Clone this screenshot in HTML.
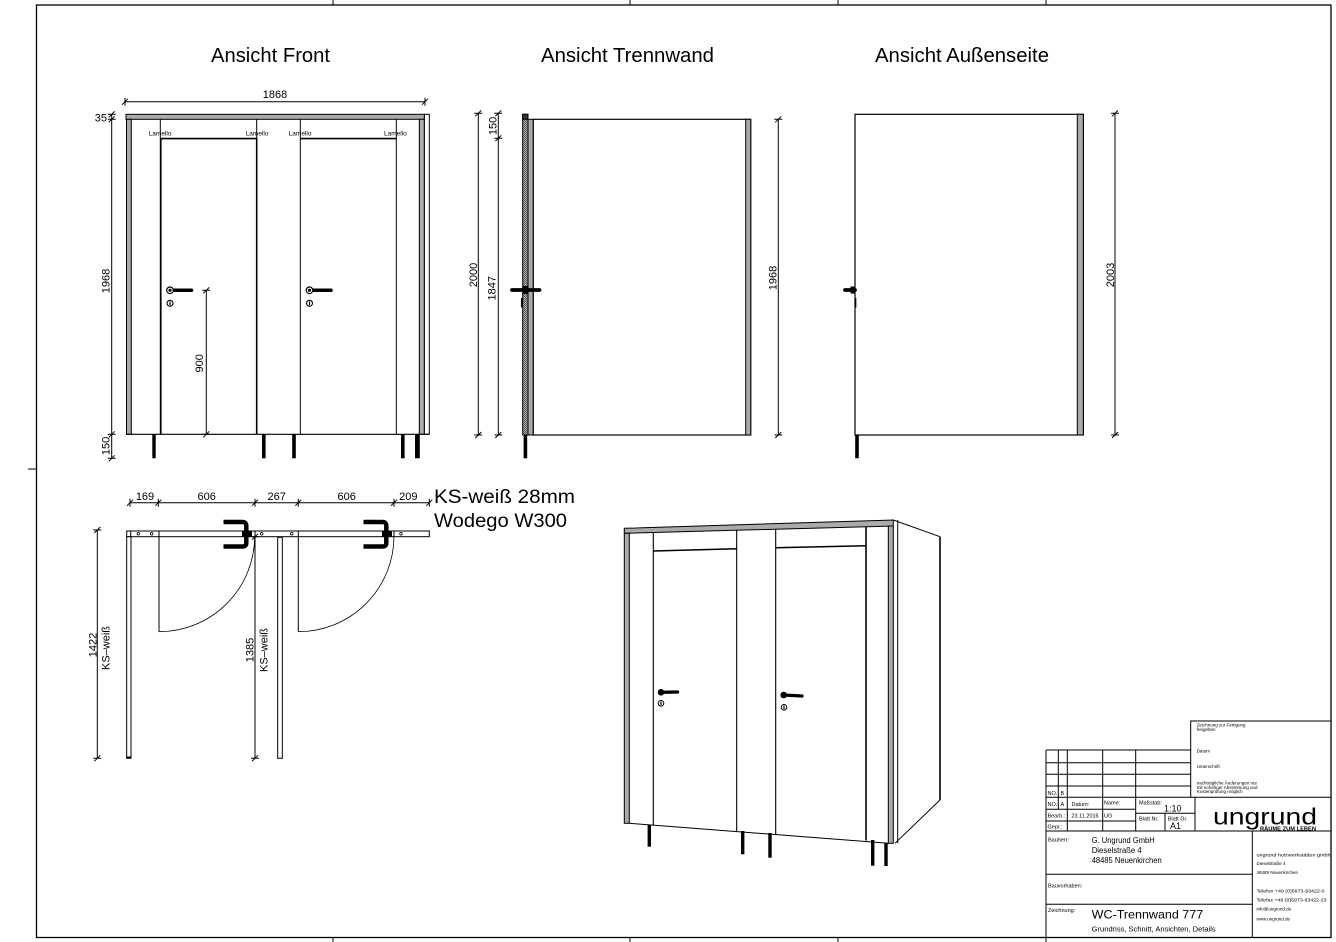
<!DOCTYPE html>
<html><head><meta charset="utf-8"><style>
html,body{margin:0;padding:0;background:#fff;}
svg{display:block;}
text{font-family:"Liberation Sans",sans-serif;fill:#000;}
</style></head><body>
<svg width="1336" height="942" viewBox="0 0 1336 942" xmlns="http://www.w3.org/2000/svg">
<defs>
<pattern id="hatch" width="2" height="2" patternUnits="userSpaceOnUse"><rect width="2" height="2" fill="#b0b0b0"/><rect width="1" height="1" fill="#555"/><rect x="1" y="1" width="1" height="1" fill="#555"/></pattern>
<g id="vt"><path d="M-4,0 H4 M-3,3 L3,-3" stroke="#000" stroke-width="1" fill="none"/></g>
<g id="ht"><path d="M0,-4 V4 M-3,3 L3,-3" stroke="#000" stroke-width="1" fill="none"/></g>
</defs>
<rect width="1336" height="942" fill="#fff"/>

<!-- border -->
<rect x="36.5" y="5" width="1294.5" height="932.5" fill="none" stroke="#000" stroke-width="1.3"/>
<g stroke="#000" stroke-width="1">
<line x1="333" y1="0" x2="333" y2="5"/><line x1="630" y1="0" x2="630" y2="5"/><line x1="838" y1="0" x2="838" y2="5"/><line x1="1046" y1="0" x2="1046" y2="5"/>
<line x1="333" y1="937.5" x2="333" y2="942"/><line x1="630" y1="937.5" x2="630" y2="942"/><line x1="838" y1="937.5" x2="838" y2="942"/><line x1="1046" y1="937.5" x2="1046" y2="942"/>
<line x1="28" y1="469" x2="36.5" y2="469"/>
</g>

<!-- titles -->
<text x="270.5" y="62" font-size="20" text-anchor="middle" textLength="119" lengthAdjust="spacingAndGlyphs">Ansicht Front</text>
<text x="627.5" y="62" font-size="20" text-anchor="middle" textLength="173" lengthAdjust="spacingAndGlyphs">Ansicht Trennwand</text>
<text x="962" y="62" font-size="20" text-anchor="middle" textLength="174" lengthAdjust="spacingAndGlyphs">Ansicht Außenseite</text>

<!-- ================= FRONT VIEW ================= -->
<line x1="125" y1="101.7" x2="425" y2="101.7" stroke="#000" stroke-width="1"/>
<use href="#ht" x="125" y="101.7"/><use href="#ht" x="425" y="101.7"/>
<text x="275" y="98" font-size="11" text-anchor="middle">1868</text>

<line x1="111.7" y1="114.3" x2="111.7" y2="458.3" stroke="#000" stroke-width="1"/>
<use href="#vt" x="111.7" y="114.3"/><use href="#vt" x="111.7" y="119.3"/><use href="#vt" x="111.7" y="434.3"/><use href="#vt" x="111.7" y="458.3"/>
<text x="107" y="121.5" font-size="11" text-anchor="end">35</text>
<text transform="translate(109.5,281) rotate(-90)" font-size="11" text-anchor="middle">1968</text>
<text transform="translate(109.5,446) rotate(-90)" font-size="11" text-anchor="middle">150</text>

<rect x="424.3" y="114.3" width="5" height="320" fill="#fff" stroke="#000" stroke-width="1"/>
<rect x="126" y="114.3" width="298.3" height="5" fill="#aaa" stroke="#000" stroke-width="1"/>
<rect x="126.5" y="119.3" width="4.8" height="315" fill="#aaa" stroke="#000" stroke-width="1"/>
<rect x="419.3" y="119.3" width="5" height="315" fill="#aaa" stroke="#000" stroke-width="1"/>
<line x1="126" y1="434.3" x2="429.3" y2="434.3" stroke="#000" stroke-width="1.2"/>
<g stroke="#000" stroke-width="1">
<line x1="160.3" y1="119.3" x2="160.3" y2="434.3"/>
<line x1="256.7" y1="119.3" x2="256.7" y2="434.3"/>
<line x1="300.3" y1="119.3" x2="300.3" y2="434.3"/>
<line x1="396.3" y1="119.3" x2="396.3" y2="434.3"/>
</g>
<path d="M160.8,434.3 V138.6 H256.7 V434.3" fill="none" stroke="#000" stroke-width="1.6"/>
<line x1="300.3" y1="138.6" x2="396.3" y2="138.6" stroke="#000" stroke-width="1.6"/>
<text x="148.7" y="135.5" font-size="6.5">Lamello</text>
<text x="245.7" y="135.5" font-size="6.5">Lamello</text>
<text x="288.7" y="135.5" font-size="6.5">Lamello</text>
<text x="384" y="135.5" font-size="6.5">Lamello</text>
<!-- handles -->
<g>
<line x1="170" y1="290.3" x2="191.5" y2="290.3" stroke="#000" stroke-width="3.5" stroke-linecap="round"/>
<circle cx="170" cy="290.3" r="3.3" fill="#fff" stroke="#000" stroke-width="1.2"/><circle cx="170" cy="290.3" r="1.6" fill="#000"/>
<circle cx="170" cy="303.3" r="3" fill="#fff" stroke="#000" stroke-width="1.1"/><line x1="170" y1="301.5" x2="170" y2="305.2" stroke="#000" stroke-width="1.2"/>
<line x1="309.5" y1="290.3" x2="331" y2="290.3" stroke="#000" stroke-width="3.5" stroke-linecap="round"/>
<circle cx="309.5" cy="290.3" r="3.3" fill="#fff" stroke="#000" stroke-width="1.2"/><circle cx="309.5" cy="290.3" r="1.6" fill="#000"/>
<circle cx="309.5" cy="303.3" r="3" fill="#fff" stroke="#000" stroke-width="1.1"/><line x1="309.5" y1="301.5" x2="309.5" y2="305.2" stroke="#000" stroke-width="1.2"/>
</g>
<line x1="206.3" y1="290.3" x2="206.3" y2="434.3" stroke="#000" stroke-width="1"/>
<use href="#vt" x="206.3" y="290.3"/><use href="#vt" x="206.3" y="434.3"/>
<text transform="translate(203,363.3) rotate(-90)" font-size="11" text-anchor="middle">900</text>
<g fill="#000">
<rect x="152.3" y="434.3" width="3.4" height="24"/>
<rect x="262" y="434.3" width="3.6" height="24"/>
<rect x="292.2" y="434.3" width="3.6" height="24"/>
<rect x="401" y="434.3" width="3.6" height="24"/>
<rect x="415" y="434.3" width="4.8" height="24"/>
</g>

<!-- ================= TRENNWAND VIEW ================= -->
<line x1="478.3" y1="113.3" x2="478.3" y2="435" stroke="#000" stroke-width="1"/>
<use href="#vt" x="478.3" y="113.3"/><use href="#vt" x="478.3" y="435"/>
<text transform="translate(477,275) rotate(-90)" font-size="11" text-anchor="middle">2000</text>
<line x1="498.3" y1="113.3" x2="498.3" y2="435" stroke="#000" stroke-width="1"/>
<use href="#vt" x="498.3" y="113.3"/><use href="#vt" x="498.3" y="138.3"/><use href="#vt" x="498.3" y="435"/>
<text transform="translate(495.5,288.3) rotate(-90)" font-size="11" text-anchor="middle">1847</text>
<text transform="translate(496.5,126) rotate(-90)" font-size="11" text-anchor="middle">150</text>

<rect x="522.7" y="114.3" width="5.3" height="320.7" fill="url(#hatch)" stroke="#000" stroke-width="1"/>
<rect x="522.7" y="114.3" width="5.3" height="5" fill="#333" stroke="#000" stroke-width="1"/>
<rect x="528" y="119.3" width="5.3" height="315.7" fill="#aaa" stroke="#000" stroke-width="1"/>
<rect x="533.3" y="119.3" width="217.4" height="315.7" fill="#fff" stroke="#000" stroke-width="1.2"/>
<rect x="745.7" y="119.3" width="5" height="315.7" fill="#aaa" stroke="#000" stroke-width="1"/>
<rect x="523.6" y="435" width="3.6" height="23.3" fill="#000"/>
<line x1="512" y1="290" x2="539.5" y2="290" stroke="#000" stroke-width="3.8" stroke-linecap="round"/>
<rect x="522.5" y="286" width="6" height="8" fill="#000"/>
<line x1="521.7" y1="298" x2="521.7" y2="307.5" stroke="#000" stroke-width="1.5"/>
<line x1="778.3" y1="119.3" x2="778.3" y2="435" stroke="#000" stroke-width="1"/>
<use href="#vt" x="778.3" y="119.3"/><use href="#vt" x="778.3" y="435"/>
<text transform="translate(776.5,278) rotate(-90)" font-size="11" text-anchor="middle">1968</text>

<!-- ================= AUSSENSEITE VIEW ================= -->
<rect x="855" y="114.3" width="228.3" height="320.7" fill="#fff" stroke="#000" stroke-width="1.2"/>
<rect x="1077.3" y="114.3" width="6" height="320.7" fill="#aaa" stroke="#000" stroke-width="1"/>
<rect x="855.2" y="435" width="3.6" height="23.3" fill="#000"/>
<line x1="845" y1="290" x2="855" y2="290" stroke="#000" stroke-width="3.8" stroke-linecap="round"/>
<rect x="850.5" y="286.5" width="4.5" height="7" fill="#000"/>
<line x1="855.6" y1="298" x2="855.6" y2="307.5" stroke="#000" stroke-width="1.5"/>
<line x1="1115" y1="113.3" x2="1115" y2="435" stroke="#000" stroke-width="1"/>
<use href="#vt" x="1115" y="113.3"/><use href="#vt" x="1115" y="435"/>
<text transform="translate(1114,275) rotate(-90)" font-size="11" text-anchor="middle">2003</text>

<!-- ================= PLAN VIEW ================= -->
<line x1="130" y1="502.7" x2="429.3" y2="502.7" stroke="#000" stroke-width="1"/>
<use href="#ht" x="130" y="502.7"/><use href="#ht" x="158.3" y="502.7"/><use href="#ht" x="255" y="502.7"/><use href="#ht" x="298.3" y="502.7"/><use href="#ht" x="394" y="502.7"/><use href="#ht" x="429.3" y="502.7"/>
<text x="145" y="500" font-size="11" text-anchor="middle">169</text>
<text x="206.7" y="500" font-size="11" text-anchor="middle">606</text>
<text x="276.7" y="500" font-size="11" text-anchor="middle">267</text>
<text x="346.7" y="500" font-size="11" text-anchor="middle">606</text>
<text x="408.3" y="500" font-size="11" text-anchor="middle">209</text>
<text x="434" y="503" font-size="19" textLength="141" lengthAdjust="spacingAndGlyphs">KS-weiß 28mm</text>
<text x="434" y="527" font-size="19" textLength="133" lengthAdjust="spacingAndGlyphs">Wodego W300</text>

<rect x="126.7" y="531" width="302.6" height="5.7" fill="#fff" stroke="#000" stroke-width="1"/>
<g stroke="#000" stroke-width="1">
<line x1="130.7" y1="531" x2="130.7" y2="536.7"/>
<line x1="159" y1="531" x2="159" y2="536.7"/>
<line x1="255" y1="531" x2="255" y2="536.7"/>
<line x1="298.3" y1="531" x2="298.3" y2="536.7"/>
<line x1="394" y1="531" x2="394" y2="536.7"/>
</g>
<g fill="#fff" stroke="#000" stroke-width="0.8">
<circle cx="138.3" cy="533.8" r="1.3"/><circle cx="151.7" cy="533.8" r="1.3"/><circle cx="261.7" cy="533.8" r="1.3"/><circle cx="291.7" cy="533.8" r="1.3"/><circle cx="401" cy="533.8" r="1.3"/>
</g>
<rect x="126.7" y="536.7" width="4.3" height="221.6" fill="#fff" stroke="#000" stroke-width="1"/>
<line x1="126.2" y1="757.5" x2="131.5" y2="757.5" stroke="#000" stroke-width="2"/>
<rect x="277.7" y="537.3" width="4.6" height="221" fill="#fff" stroke="#000" stroke-width="1"/>
<line x1="159" y1="536.7" x2="159" y2="631.7" stroke="#000" stroke-width="1"/>
<line x1="298.3" y1="536.7" x2="298.3" y2="631.7" stroke="#000" stroke-width="1"/>
<path d="M159,631.7 A95.7,95.7 0 0 0 254.7,536" fill="none" stroke="#000" stroke-width="0.8"/>
<path d="M298.3,631.7 A95.7,95.7 0 0 0 394,536" fill="none" stroke="#000" stroke-width="0.8"/>
<g fill="none" stroke="#000" stroke-width="4.5" stroke-linejoin="round">
<path d="M223.5,522 H242.5 Q246.3,522 246.3,526 V543 Q246.3,546.5 242.5,546.5 H223.5"/>
<path d="M363.5,522 H382.5 Q386.3,522 386.3,526 V543 Q386.3,546.5 382.5,546.5 H363.5"/>
</g>
<rect x="242" y="531" width="10" height="6" fill="#000"/>
<rect x="382" y="531" width="10" height="6" fill="#000"/>
<line x1="97.3" y1="530" x2="97.3" y2="758.3" stroke="#000" stroke-width="1"/>
<use href="#vt" x="97.3" y="530"/><use href="#vt" x="97.3" y="758.3"/>
<text transform="translate(96.7,645) rotate(-90)" font-size="11" text-anchor="middle">1422</text>
<text transform="translate(109.3,648) rotate(-90)" font-size="11" text-anchor="middle">KS–weiß</text>
<line x1="255" y1="536.7" x2="255" y2="758.3" stroke="#000" stroke-width="1"/>
<use href="#vt" x="255" y="536.7"/><use href="#vt" x="255" y="758.3"/>
<text transform="translate(253.3,650) rotate(-90)" font-size="11" text-anchor="middle">1385</text>
<text transform="translate(267.3,650) rotate(-90)" font-size="11" text-anchor="middle">KS–weiß</text>

<!-- ================= 3D VIEW ================= -->
<polygon points="897.7,520 940,536.7 940,800 897.7,843.3" fill="#fff" stroke="none"/>
<line x1="893.3" y1="520" x2="940" y2="536.7" stroke="#000" stroke-width="1"/>
<line x1="940" y1="536.7" x2="940" y2="800" stroke="#000" stroke-width="1.6"/>
<line x1="940" y1="800" x2="895" y2="843.3" stroke="#000" stroke-width="1"/>
<line x1="897.7" y1="520" x2="897.7" y2="843.3" stroke="#000" stroke-width="1"/>
<polygon points="624.3,528.3 893.3,520 893.3,526 624.3,533.3" fill="#aaa" stroke="#000" stroke-width="1"/>
<rect x="624.3" y="533.3" width="5" height="290" fill="#aaa" stroke="#000" stroke-width="1"/>
<rect x="888.3" y="526" width="5" height="317.3" fill="#aaa" stroke="#000" stroke-width="1"/>
<line x1="629.3" y1="823.3" x2="888.3" y2="843.3" stroke="#000" stroke-width="1"/>
<g stroke="#000" stroke-width="1.1">
<line x1="653.3" y1="532.5" x2="653.3" y2="825.2"/>
<line x1="736.7" y1="530" x2="736.7" y2="831.5"/>
<line x1="775.7" y1="529" x2="775.7" y2="834"/>
</g>
<line x1="866" y1="527" x2="866" y2="840.5" stroke="#000" stroke-width="1.6"/>
<line x1="653.3" y1="551" x2="736.7" y2="548.7" stroke="#000" stroke-width="1.5"/>
<line x1="775.7" y1="547.7" x2="866" y2="545.8" stroke="#000" stroke-width="1.5"/>
<g>
<line x1="661" y1="692.3" x2="677.5" y2="692" stroke="#000" stroke-width="3.3" stroke-linecap="round"/>
<circle cx="661" cy="692.3" r="3.3" fill="#000"/>
<circle cx="661" cy="703.3" r="2.8" fill="#fff" stroke="#000" stroke-width="1"/><line x1="661" y1="701.6" x2="661" y2="705" stroke="#000" stroke-width="1.2"/>
<line x1="783.7" y1="695" x2="802" y2="696" stroke="#000" stroke-width="3.3" stroke-linecap="round"/>
<circle cx="783.7" cy="695" r="3.3" fill="#000"/>
<circle cx="784" cy="707.3" r="2.8" fill="#fff" stroke="#000" stroke-width="1"/><line x1="784" y1="705.6" x2="784" y2="709" stroke="#000" stroke-width="1.2"/>
</g>
<g fill="#000">
<rect x="647.6" y="825" width="3.4" height="21.7"/>
<rect x="741" y="831" width="3.4" height="23.3"/>
<rect x="768.3" y="833" width="3.4" height="24.7"/>
<rect x="871" y="840" width="3.4" height="25.7"/>
<rect x="884.3" y="843" width="3.4" height="23"/>
</g>

<!-- ================= TITLE BLOCK ================= -->
<g stroke="#000" stroke-width="1" fill="none">
<polyline points="1190.7,797.3 1190.7,721 1331,721"/>
<line x1="1046" y1="750" x2="1046" y2="937.5"/>
<line x1="1046" y1="750" x2="1190.7" y2="750"/>
<line x1="1046" y1="762.7" x2="1190.7" y2="762.7"/>
<line x1="1046" y1="774.3" x2="1190.7" y2="774.3"/>
<line x1="1046" y1="786" x2="1190.7" y2="786"/>
<line x1="1046" y1="797.3" x2="1331" y2="797.3"/>
<line x1="1046" y1="809.3" x2="1135.7" y2="809.3"/>
<line x1="1046" y1="821" x2="1135.7" y2="821"/>
<line x1="1135.7" y1="813.3" x2="1195" y2="813.3"/>
<line x1="1046" y1="831" x2="1331" y2="831"/>
<line x1="1058.3" y1="750" x2="1058.3" y2="809.3"/>
<line x1="1067.3" y1="750" x2="1067.3" y2="831"/>
<line x1="1102.7" y1="750" x2="1102.7" y2="831"/>
<line x1="1135.7" y1="750" x2="1135.7" y2="831"/>
<line x1="1165" y1="813.3" x2="1165" y2="831"/>
<line x1="1195" y1="797.3" x2="1195" y2="831"/>
<line x1="1252.3" y1="831" x2="1252.3" y2="937.5"/>
<line x1="1046" y1="874.3" x2="1252.3" y2="874.3"/>
<line x1="1046" y1="904.3" x2="1252.3" y2="904.3"/>
</g>
<g font-size="4.5">
<text x="1196.7" y="726.5">Zeichnung zur Fertigung</text>
<text x="1196.7" y="731">freigeben</text>
<text x="1196.7" y="752.5">Datum</text>
<text x="1196.7" y="768">Unterschrift</text>
<text x="1196.7" y="784.5">nachträgliche Änderungen nur</text>
<text x="1196.7" y="788.8">mit sofortiger Abstimmung und</text>
<text x="1196.7" y="793">Kostenprüfung möglich</text>
</g>
<g font-size="5.5">
<text x="1047.5" y="795">NO.</text><text x="1060.5" y="795">B</text>
<text x="1047.5" y="806">NO.</text><text x="1060.5" y="806">A</text>
<text x="1071.5" y="806">Datum:</text>
<text x="1104" y="804.5">Name:</text>
<text x="1139" y="804.5">Maßstab:</text>
<text x="1047.5" y="817.5">Bearb.:</text>
<text x="1071.5" y="817.5">23.11.2016</text>
<text x="1104" y="817.5">UG</text>
<text x="1139" y="820.5">Blatt Nr.</text>
<text x="1167.7" y="820.5">Blatt Gr.</text>
<text x="1047.5" y="828.5">Gepr.:</text>
<text x="1048" y="841.5">Bauherr:</text>
<text x="1048" y="887.5">Bauvorhaben:</text>
<text x="1048" y="912">Zeichnung:</text>
</g>
<text x="1164" y="811.5" font-size="9">1:10</text>
<text x="1170" y="829" font-size="9">A1</text>
<text x="1213" y="824.5" font-size="23" textLength="104" lengthAdjust="spacingAndGlyphs">ungrund</text>
<text x="1260" y="830.5" font-size="5" font-weight="bold" textLength="56" lengthAdjust="spacingAndGlyphs">RÄUME ZUM LEBEN</text>
<text x="1091.7" y="843" font-size="8" textLength="63" lengthAdjust="spacingAndGlyphs">G. Ungrund GmbH</text>
<text x="1091.7" y="853" font-size="8" textLength="50" lengthAdjust="spacingAndGlyphs">Dieselstraße 4</text>
<text x="1091.7" y="863" font-size="8" textLength="70" lengthAdjust="spacingAndGlyphs">48485 Neuenkirchen</text>
<text x="1091.7" y="918.3" font-size="12" textLength="111.5" lengthAdjust="spacingAndGlyphs">WC-Trennwand 777</text>
<text x="1091.7" y="931.7" font-size="7.5" textLength="124" lengthAdjust="spacingAndGlyphs">Grundriss, Schnitt, Ansichten, Details</text>
<g font-size="4.5">
<text x="1256.5" y="856.5" textLength="74" lengthAdjust="spacingAndGlyphs">ungrund holzwerkstätten gmbh</text>
<text x="1256.5" y="865">Dieselstraße 4</text>
<text x="1256.5" y="874">48485 Neuenkirchen</text>
<text x="1256.5" y="892.5" textLength="68" lengthAdjust="spacingAndGlyphs">Telefon +49 (0)5973-93422-0</text>
<text x="1256.5" y="901.5" textLength="70" lengthAdjust="spacingAndGlyphs">Telefax +49 (0)5973-93422-23</text>
<text x="1256.5" y="910.5">info@ungrund.de</text>
<text x="1256.5" y="920.5">www.ungrund.de</text>
</g>
</svg>
</body></html>
